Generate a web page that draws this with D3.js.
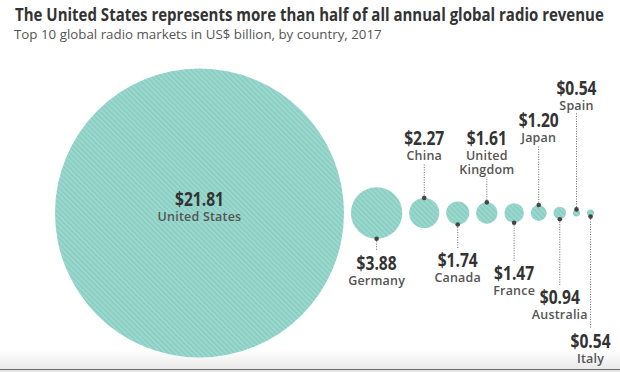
<!DOCTYPE html>
<html>
<head>
<meta charset="utf-8">
<script src="https://cdnjs.cloudflare.com/ajax/libs/d3/7.8.5/d3.min.js"></script>
<style>
  body { margin: 0; background: #fff; }
  svg { display: block; font-family: "Open Sans", sans-serif; }
</style>
</head>
<body>
<div class="chart"></div>
<script>
// data
const countries = ["United States", "Germany", "China", "Canada", "United Kingdom",
                   "France", "Japan", "Australia", "Spain", "Italy"];
const revenue = [21.81, 3.88, 2.27, 1.74, 1.61, 1.47, 1.20, 0.94, 0.54, 0.54];
const nameLines = [["United States"], ["Germany"], ["China"], ["Canada"], ["United", "Kingdom"],
                   ["France"], ["Japan"], ["Australia"], ["Spain"], ["Italy"]];

const title = "The United States represents more than half of all annual global radio revenue",
    subtitle = "Top 10 global radio markets in US$ billion, by country, 2017";

// layout
const width = 620, height = 372,
    startX = 55, centerY = 213,
    gap = 6.9;
// baseline of each value label (outside labels only), staggered by hand
const labelY = [null, 270, 145, 267, 145, 280, 127, 304, 95, 348];

const svg = d3.select(".chart").append("svg")
    .attr("width", width)
    .attr("height", height);

const defs = svg.append("defs");
const pat = defs.append("pattern")
    .attr("id", "stripes")
    .attr("patternUnits", "userSpaceOnUse")
    .attr("width", 3.6).attr("height", 3.6)
    .attr("patternTransform", "rotate(-45)");
pat.append("rect").attr("width", 3.6).attr("height", 3.6).attr("fill", "#8bcfc4");
pat.append("line").attr("x1", 0.8).attr("y1", 0).attr("x2", 0.8).attr("y2", 3.6)
    .attr("stroke", "#a2dbd1").attr("stroke-width", 1.3);

const grad = defs.append("linearGradient").attr("id", "foot")
    .attr("x1", 0).attr("x2", 0).attr("y1", 0).attr("y2", 1);
grad.append("stop").attr("offset", 0).attr("stop-color", "#ffffff");
grad.append("stop").attr("offset", 1).attr("stop-color", "#e9e9e9");

// footer shading
svg.append("rect").attr("x", 0).attr("y", 350).attr("width", width).attr("height", 19)
    .attr("fill", "url(#foot)");
svg.append("rect").attr("x", 0).attr("y", 369).attr("width", width).attr("height", 3)
    .attr("fill", "#e4e4e4");
svg.append("line").attr("x1", 0).attr("x2", width).attr("y1", 369.5).attr("y2", 369.5)
    .attr("stroke", "#6a6a6a").attr("stroke-width", 1.2);

// squeeze a text horizontally so it is exactly w wide (condensed look)
function fitWidth(sel, x, y, w) {
  const natural = sel.node().getComputedTextLength();
  sel.attr("transform", `translate(${x},${y}) scale(${w / natural},1)`);
}

// title
const t1 = svg.append("text")
    .style("font-size", "17.5px").style("font-weight", 700).style("fill", "#333")
    .text(title);
fitWidth(t1, 15, 21, 589);
const t2 = svg.append("text")
    .style("font-size", "13px").style("fill", "#555")
    .text(subtitle);
fitWidth(t2, 14, 39, 368);

// radius proportional to value
const r = d3.scaleLinear().domain([0, d3.max(revenue)]).range([0, 144.5]);

const data = countries.map((c, i) => ({ country: c, value: revenue[i], lines: nameLines[i], ly: labelY[i] }));
let x = startX;
data.forEach(d => {
  d.r = r(d.value);
  d.cx = x + d.r;
  x += 2 * d.r + gap;
});

svg.selectAll("circle.bubble")
  .data(data)
  .enter().append("circle")
    .attr("class", "bubble")
    .attr("cx", d => d.cx)
    .attr("cy", centerY)
    .attr("r", d => d.r)
    .attr("fill", "url(#stripes)");

const fmt = d3.format("$.2f");

// one text per label: condensed bold value, then the country name line(s)
function label(g, tx, ty, v, lines, nameDy) {
  const t = g.append("text").attr("text-anchor", "middle");
  const vs = t.append("tspan")
    .attr("x", tx).attr("y", ty)
    .style("font-size", "19px").style("font-weight", 700).style("fill", "#333")
    .text(fmt(v));
  const w = vs.node().getComputedTextLength();
  vs.attr("textLength", w * 0.82).attr("lengthAdjust", "spacingAndGlyphs");
  lines.forEach((l, k) => {
    t.append("tspan")
      .attr("x", tx).attr("y", ty + nameDy + k * 14)
      .style("font-size", "12.5px").style("font-weight", 600).style("fill", "#555")
      .style("letter-spacing", "0.2px")
      .text(l);
  });
}

const labels = svg.append("g");
data.forEach((d, i) => {
  const g = labels.append("g");
  if (i === 0) {
    label(g, d.cx, centerY - 7, d.value, d.lines, 15);
    return;
  }
  const below = i % 2 === 1;
  let y1, y2;
  if (below) {
    y1 = centerY + d.r;
    y2 = d.ly - 19;
  } else {
    y1 = centerY - d.r;
    y2 = d.ly + 14 * d.lines.length + 4;
  }
  g.append("line")
    .attr("x1", d.cx).attr("x2", d.cx).attr("y1", y1).attr("y2", y2)
    .attr("stroke", "#666").attr("stroke-width", 1)
    .attr("stroke-dasharray", "1,1.5");
  g.append("circle").attr("cx", d.cx).attr("cy", y1).attr("r", 2.3).attr("fill", "#444");
  label(g, d.cx, d.ly, d.value, d.lines, 14.5);
});
</script>
</body>
</html>
